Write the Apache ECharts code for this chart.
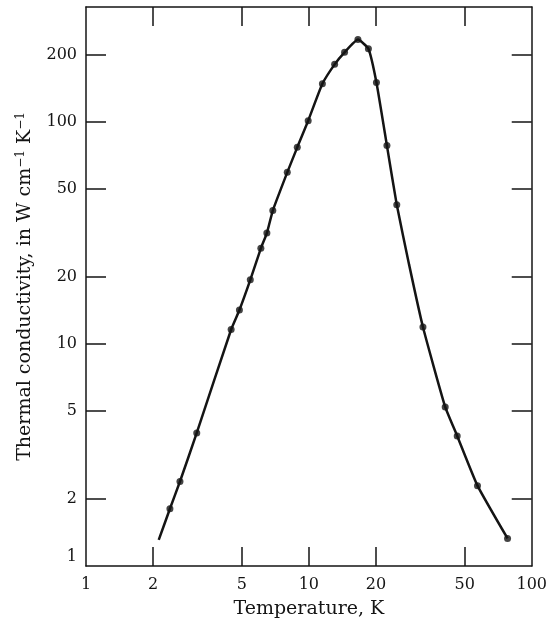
<!DOCTYPE html>
<html>
<head>
<meta charset="utf-8">
<script src="https://cdn.jsdelivr.net/npm/echarts@6/dist/echarts.min.js"></script>
<style>
  html, body { margin: 0; padding: 0; background: #fff; }
  #chart { width: 550px; height: 629px; }
</style>
</head>
<body>
<div id="chart"></div>
<script>
// measured points (temperature K, conductivity W/cm/K)
const tempPoints = [2.38, 2.64, 3.14, 4.48, 4.88, 5.46, 6.09, 6.48, 6.89, 8.0, 8.87, 9.93, 11.5, 13.05, 14.46, 16.6, 18.5, 20.1, 22.4, 24.8, 32.5, 40.9, 46.3, 57.1, 77.9];
const condPoints = [1.81, 2.40, 3.97, 11.6, 14.2, 19.4, 26.9, 31.5, 39.8, 59.1, 76.6, 101, 148, 181, 205, 234, 213, 150, 78, 42.2, 11.9, 5.2, 3.85, 2.30, 1.33];

// fitted curve knots
const curveTemp = [2.12, 2.38, 2.64, 3.14, 4.48, 4.88, 5.46, 6.09, 6.48, 6.89, 8.0, 8.87, 9.93, 11.5, 13.05, 14.46, 16.6, 18.5, 20.1, 22.4, 24.8, 28.2, 32.5, 40.9, 46.3, 57.1, 77.9];
const curveCond = [1.31, 1.81, 2.40, 3.97, 11.6, 14.2, 19.4, 26.9, 31.5, 39.8, 59.1, 76.6, 101, 148, 181, 205, 234, 213, 150, 78, 42.2, 22.6, 11.9, 5.2, 3.85, 2.30, 1.33];

const xTicks = [1, 2, 5, 10, 20, 50, 100];
const yTicks = [1, 2, 5, 10, 20, 50, 100, 200];

const chart = echarts.init(document.getElementById('chart'));
const ink = '#141414';
const font = 'DejaVu Serif';

const baseAxis = {
  type: 'log',
  logBase: 10,
  axisLine: { show: true, onZero: false, lineStyle: { color: ink, width: 1.5 } },
  splitLine: { show: false },
  minorTick: { show: false }
};

const option = {
  animation: false,
  backgroundColor: '#fff',
  grid: { left: 86, right: 15, top: 7, bottom: 63 },
  xAxis: [
    Object.assign({}, baseAxis, {
      position: 'bottom',
      min: 1, max: 100,
      axisTick: { show: true, inside: true, length: 19, customValues: [2, 5, 10, 20, 50], lineStyle: { color: ink, width: 1.5 } },
      axisLabel: {
        customValues: xTicks,
        color: ink, fontFamily: font, fontSize: 16, margin: 11,
        formatter: v => String(Math.round(v))
      },
      name: 'Temperature, K',
      nameLocation: 'middle',
      nameGap: 34,
      nameTextStyle: { color: ink, fontFamily: font, fontSize: 19 }
    }),
    Object.assign({}, baseAxis, {
      position: 'top',
      min: 1, max: 100,
      axisTick: { show: true, inside: true, length: 19, customValues: [2, 5, 10, 20, 50], lineStyle: { color: ink, width: 1.5 } },
      axisLabel: { show: false }
    })
  ],
  yAxis: [
    Object.assign({}, baseAxis, {
      position: 'left',
      min: 1, max: 328,
      axisTick: { show: true, inside: true, length: 20, customValues: [2, 5, 10, 20, 50, 100, 200], lineStyle: { color: ink, width: 1.5 } },
      axisLabel: {
        customValues: yTicks,
        color: ink, fontFamily: font, fontSize: 16, margin: 9,
        formatter: v => (Math.round(v) === 1 ? '{low|1}' : String(Math.round(v))),
        rich: { low: { fontFamily: font, fontSize: 16, color: ink, padding: [0, 0, 18, 0] } }
      },
      name: 'Thermal conductivity, in W cm{sup|\u22121} K{sup|\u22121}',
      nameLocation: 'middle',
      nameGap: 50,
      nameRotate: 90,
      nameTextStyle: {
        color: ink, fontFamily: font, fontSize: 19,
        rich: { sup: { fontFamily: font, fontSize: 12, color: ink, verticalAlign: 'top', padding: [0, 0, 9, 0] } }
      }
    }),
    Object.assign({}, baseAxis, {
      position: 'right',
      min: 1, max: 328,
      axisTick: { show: true, inside: true, length: 20, customValues: [2, 5, 10, 20, 50, 100, 200], lineStyle: { color: ink, width: 1.5 } },
      axisLabel: { show: false }
    })
  ],
  series: [
    {
      name: 'curve',
      type: 'line',
      xAxisIndex: 0,
      yAxisIndex: 0,
      data: curveTemp.map((t, i) => [t, curveCond[i]]),
      showSymbol: false,
      smooth: 0.15,
      lineStyle: { color: ink, width: 2.5 },
      silent: true
    },
    {
      name: 'measured',
      type: 'scatter',
      xAxisIndex: 0,
      yAxisIndex: 0,
      data: tempPoints.map((t, i) => [t, condPoints[i]]),
      symbol: 'circle',
      symbolSize: 7,
      itemStyle: { color: ink }
    }
  ]
};

chart.setOption(option);
</script>
</body>
</html>
